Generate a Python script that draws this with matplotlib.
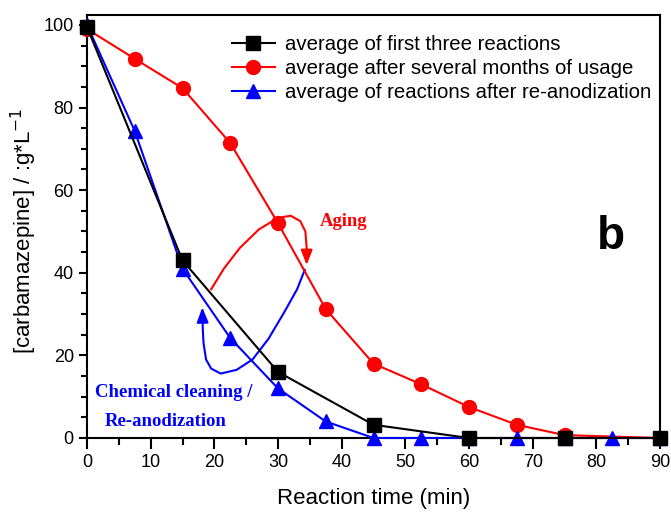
import matplotlib
matplotlib.use("Agg")
import matplotlib.pyplot as plt
from matplotlib.ticker import MultipleLocator

plt.rcParams['font.family'] = ['Liberation Sans', 'DejaVu Sans']

# Data
t_black = [0, 15, 30, 45, 60, 75, 90]
c_black = [99.5, 43, 16, 3.2, 0, 0, 0]

t_red = [0, 7.5, 15, 22.5, 30, 37.5, 45, 52.5, 60, 67.5, 75, 90]
c_red = [99, 91.8, 84.7, 71.4, 52, 31.2, 18, 13, 7.5, 3.2, 0.7, 0]

t_blue = [0, 7.5, 15, 22.5, 30, 37.5, 45, 52.5, 60, 67.5, 75, 82.5, 90]
c_blue = [100, 74.3, 41, 24.2, 12, 4, 0, 0, 0, 0, 0, 0, 0]

labels = ["average of first three reactions",
          "average after several months of usage",
          "average of reactions after re-anodization"]

# annotation curves (decorative arrows)
aging_x = [19.5, 21.5, 24, 27, 30, 32, 33.5, 34.3, 34.5]
aging_y = [36, 41, 46, 50.5, 53.3, 53.8, 52.5, 50, 46]
clean_x = [34.2, 33, 31, 28.5, 26, 23.5, 21, 19.5, 18.7, 18.3, 18.2]
clean_y = [40.7, 36, 30.5, 24, 19, 16.5, 15.6, 16.8, 19, 23, 26]

fig = plt.figure(figsize=(6.71, 5.13), dpi=100)
ax = fig.add_axes([87/671, 1-438/513, (660-87)/671, (438-15)/513])

l2, = ax.plot(t_red, c_red, color='red', lw=1.5, marker='o', ms=10, clip_on=False, zorder=3)
l3, = ax.plot(t_blue, c_blue, color='blue', lw=1.5, marker='^', ms=9.5, clip_on=False, zorder=4)
l1, = ax.plot(t_black, c_black, color='black', lw=1.5, marker='s', ms=9.5, clip_on=False, zorder=5)

ax.plot(aging_x, aging_y, color='red', lw=1.5, zorder=2)
ax.annotate('', xy=(34.5, 41.2), xytext=(34.5, 46.5),
            arrowprops=dict(arrowstyle='-|>,head_length=0.9,head_width=0.35', color='red', lw=1.5), zorder=2)
ax.plot(clean_x, clean_y, color='blue', lw=1.5, zorder=2)
ax.annotate('', xy=(18.1, 32.3), xytext=(18.2, 25.5),
            arrowprops=dict(arrowstyle='-|>,head_length=0.9,head_width=0.35', color='blue', lw=1.5), zorder=2)

ax.text(36.6, 52.3, 'Aging', color='red', fontsize=13.4, fontweight='bold',
        family='Liberation Serif', ha='left', va='center')
ax.text(1.2, 11.1, 'Chemical cleaning /', color='blue', fontsize=13.5, fontweight='bold',
        family='Liberation Serif', ha='left', va='center')
ax.text(2.8, 4.1, 'Re-anodization', color='blue', fontsize=13.5, fontweight='bold',
        family='Liberation Serif', ha='left', va='center')
ax.text(82.3, 48.6, 'b', fontsize=33, fontweight='bold', ha='center', va='center')

ax.set_xlim(0, 90)
ax.set_ylim(0, 102.4)
ax.xaxis.set_major_locator(MultipleLocator(10))
ax.xaxis.set_minor_locator(MultipleLocator(5))
ax.yaxis.set_major_locator(MultipleLocator(20))
ax.yaxis.set_minor_locator(MultipleLocator(5))
ax.tick_params(which='major', direction='out', width=1.5, labelsize=13)
ax.tick_params(which='minor', direction='out', width=1.5)
ax.tick_params(axis='x', which='major', length=8)
ax.tick_params(axis='x', which='minor', length=5)
ax.tick_params(axis='y', which='major', length=6)
ax.tick_params(axis='y', which='minor', length=4)
for s in ax.spines.values():
    s.set_linewidth(1.5)

ax.set_xlabel('Reaction time (min)', fontsize=16, labelpad=12)
ax.set_ylabel('[carbamazepine] / :g*L$^{-1}$', fontsize=16, labelpad=8)
ax.yaxis.set_label_coords(-0.083, 0.489)

ax.legend([l1, l2, l3], labels, loc='upper left', frameon=False, fontsize=14.7,
          handlelength=2.1, handletextpad=0.5, labelspacing=0.25,
          bbox_to_anchor=(0.253, 0.953), borderaxespad=0, borderpad=0)

fig.savefig('out.png', dpi=100)
